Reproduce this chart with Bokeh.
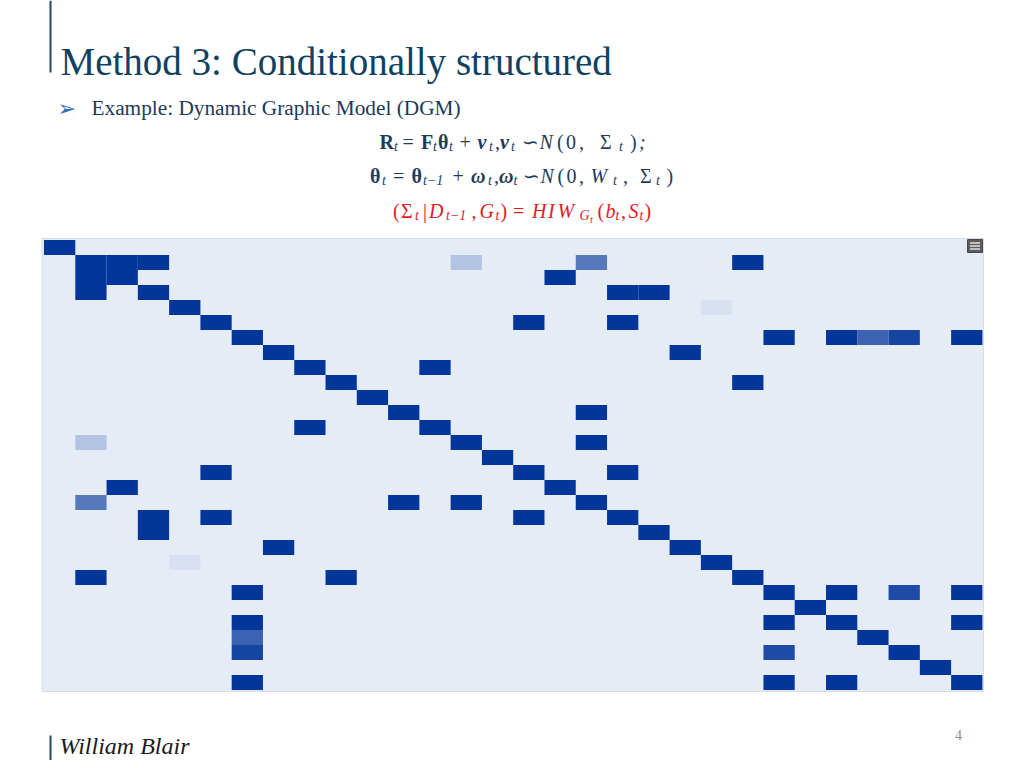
from bokeh.plotting import figure
from bokeh.models import Range1d, ColumnDataSource
from bokeh.transform import linear_cmap
from bokeh.core.properties import value
from bokeh.embed import file_html
from bokeh.resources import INLINE

# ---------------- data: 30x30 conditional-dependence matrix (symmetric) ----------------
node_ids = [0, 1, 2, 3, 4, 5, 6, 7, 8, 9, 10, 11, 12, 13, 14,
            15, 16, 17, 18, 19, 20, 21, 22, 23, 24, 25, 26, 27, 28, 29]
diag_vals = [1.0, 1.0, 1.0, 1.0, 1.0, 1.0, 1.0, 1.0, 1.0, 1.0, 1.0, 1.0, 1.0, 1.0, 1.0,
             1.0, 1.0, 1.0, 1.0, 1.0, 1.0, 1.0, 1.0, 1.0, 1.0, 1.0, 1.0, 1.0, 1.0, 1.0]
edge_rows = [1, 1, 1, 1, 1, 2, 3, 3, 4, 5, 5, 6, 6, 6, 6, 6, 7, 8, 9, 11, 13, 15, 23, 23, 23, 25]
edge_cols = [2, 3, 13, 17, 22, 16, 18, 19, 21, 15, 18, 23, 25, 26, 27, 29, 20, 12, 22, 17, 17, 18, 25, 27, 29, 29]
edge_vals = [1.0, 1.0, 0.22, 0.63, 1.0, 1.0, 1.0, 1.0, 0.06, 1.0, 1.0, 1.0, 1.0, 0.75, 0.92, 1.0,
             1.0, 1.0, 1.0, 1.0, 1.0, 1.0, 1.0, 0.88, 1.0, 1.0]

title_text = "Method 3: Conditionally structured"
bullet_text = "Example: Dynamic Graphic Model (DGM)"
footer_logo = "William Blair"
page_number = "4"

# ---------------- layout ----------------
W, H = 1016, 760
PX0, PY0 = 0, 0                      # page offset of the figure
GRID_X0, CELL_W = 43.5, 31.28        # heatmap grid position / cell size in page pixels
GRID_Y0, CELL_H = 239.5, 15.0

p = figure(width=W, height=H,
           x_range=Range1d(PX0, PX0 + W), y_range=Range1d(PY0 + H, PY0),
           output_backend="svg", toolbar_location=None,
           x_axis_location=None, y_axis_location=None,
           min_border=0, min_border_left=0, min_border_right=0,
           min_border_top=0, min_border_bottom=0,
           outline_line_color=None, background_fill_color="white",
           border_fill_color="white")
p.grid.visible = False
p.extra_x_ranges = {"hx": Range1d((PX0 - GRID_X0) / CELL_W, (PX0 + W - GRID_X0) / CELL_W)}
p.extra_y_ranges = {"hy": Range1d((PY0 + H - GRID_Y0) / CELL_H, (PY0 - GRID_Y0) / CELL_H)}

# heatmap panel background
p.quad(left=[41.5], right=[983], top=[238], bottom=[691],
       fill_color="#E5ECF6", line_color="#D5DEE9", line_width=1)

# cells
rows = node_ids + edge_rows + edge_cols
cols = node_ids + edge_cols + edge_rows
vals = diag_vals + edge_vals + edge_vals
src = ColumnDataSource(dict(cx=[c + 0.5 for c in cols], cy=[r + 0.5 for r in rows], v=vals))

c0 = (229, 236, 246)
c1 = (3, 54, 155)
palette = ["#%02x%02x%02x" % tuple(int(round(a + (b - a) * i / 255)) for a, b in zip(c0, c1))
           for i in range(256)]
p.rect(x="cx", y="cy", width=1, height=1, source=src,
       fill_color=linear_cmap("v", palette, 0, 1), line_color=None,
       x_range_name="hx", y_range_name="hy")

# plotly-style menu icon
p.quad(left=[967], right=[982], top=[239], bottom=[252], fill_color="#5C5C5C", line_color="#4A4A4A")
p.segment(x0=[969.5, 969.5, 969.5], x1=[979.5, 979.5, 979.5], y0=[242.5, 245.5, 248.5],
          y1=[242.5, 245.5, 248.5], line_color="#E0E0E0", line_width=1.5)

# slide accents
p.segment(x0=[50], x1=[50], y0=[PY0], y1=[72], line_color="#1E4A5C", line_width=2)
p.segment(x0=[50], x1=[50], y0=[735], y1=[PY0 + H], line_color="#1E4A5C", line_width=2)


def txt(x, y, s, size, color, font="Liberation Serif", style="normal", align="left"):
    # y is the intended alphabetic baseline; compensate the renderer's baseline offset
    yb = y - (0.25 * size + 2)
    p.text(x=[x], y=[yb], text=[s], text_font=value(font), text_font_size=value("%gpx" % size),
           text_font_style=style, text_color=color, text_align=align, text_baseline="alphabetic")


txt(60, 73, title_text, 39, "#0F4262")
txt(57, 115, "\u27A2", 22, "#2E6DB4", font="DejaVu Sans")
txt(91, 115, bullet_text, 21.3, "#1B3A5A")

# equations: (text, x, kind)
MF = "Liberation Serif"
navy = "#1F3B5C"
red = "#E31B23"
eq1 = [("R", 379, "b"), ("t", 393.5, "s"), ("=", 402, "n"), ("F", 420.5, "b"), ("t", 432.5, "s"),
       ("\u03B8", 437.5, "b"), ("t", 448.5, "s"), ("+", 459, "n"), ("\u03BD", 477, "bi"),
       ("t", 488.5, "s"), (",", 494.5, "n"), ("\u03BD", 499.5, "bi"), ("t", 510.5, "s"),
       ("\u223D", 521.5, "n"), ("N", 539, "i"), ("(", 556.5, "n"), ("0", 565.5, "n"), (",", 578.5, "n"),
       ("\u03A3", 599.5, "n"), ("t", 618.5, "s"), (")", 629.5, "n"), (";", 638.5, "i")]
eq2 = [("\u03B8", 369.5, "b"), ("t", 381.5, "s"), ("=", 392.5, "n"), ("\u03B8", 411, "b"),
       ("t\u22121", 422.5, "s"), ("+", 452, "n"), ("\u03C9", 470.5, "bi"), ("t", 487.5, "s"),
       (",", 493.5, "n"), ("\u03C9", 498.5, "bi"), ("t", 513, "s"), ("\u223D", 522, "n"),
       ("N", 540, "i"), ("(", 557, "n"), ("0", 566, "n"), (",", 578.5, "n"), ("W", 590, "i"),
       ("t", 612.5, "s"), (",", 622.5, "n"), ("\u03A3", 639.5, "n"), ("t", 655.5, "s"), (")", 666, "n")]
eq3 = [("(", 392.5, "n"), ("\u03A3", 400.5, "n"), ("t", 414.5, "s"), ("|", 422.5, "n"),
       ("D", 428.5, "i"), ("t\u22121", 445.5, "s"), (",", 471, "n"), ("G", 479, "i"),
       ("t", 495, "s"), (")", 500, "n"), ("=", 512.5, "n"), ("H", 531.5, "i"), ("I", 547.5, "i"),
       ("W", 557, "i"), ("G", 579, "s"), ("t", 589.5, "ss"), ("(", 597, "n"), ("b", 605, "i"),
       ("t", 615, "s"), (",", 620.5, "n"), ("S", 628, "i"), ("t", 639, "s"), (")", 644, "n")]

kinds = {"n": ("normal", 20, 0), "i": ("italic", 20, 0), "b": ("bold", 20, 0),
         "bi": ("bold italic", 20, 0), "s": ("italic", 14, 3), "ss": ("italic", 10.5, 6.5)}
for eq, base, col in ((eq1, 148.5, navy), (eq2, 182.5, navy), (eq3, 217.5, red)):
    for s, x, k in eq:
        st, sz, dy = kinds[k]
        txt(x, base + dy, s, sz, col, font=MF, style=st)

# footer
txt(59, 753, footer_logo, 24, "#1A1A1A", style="italic")
txt(958, 740, page_number, 14, "#8C8C8C", align="center")

open("out.html", "w").write(file_html(p, INLINE))
